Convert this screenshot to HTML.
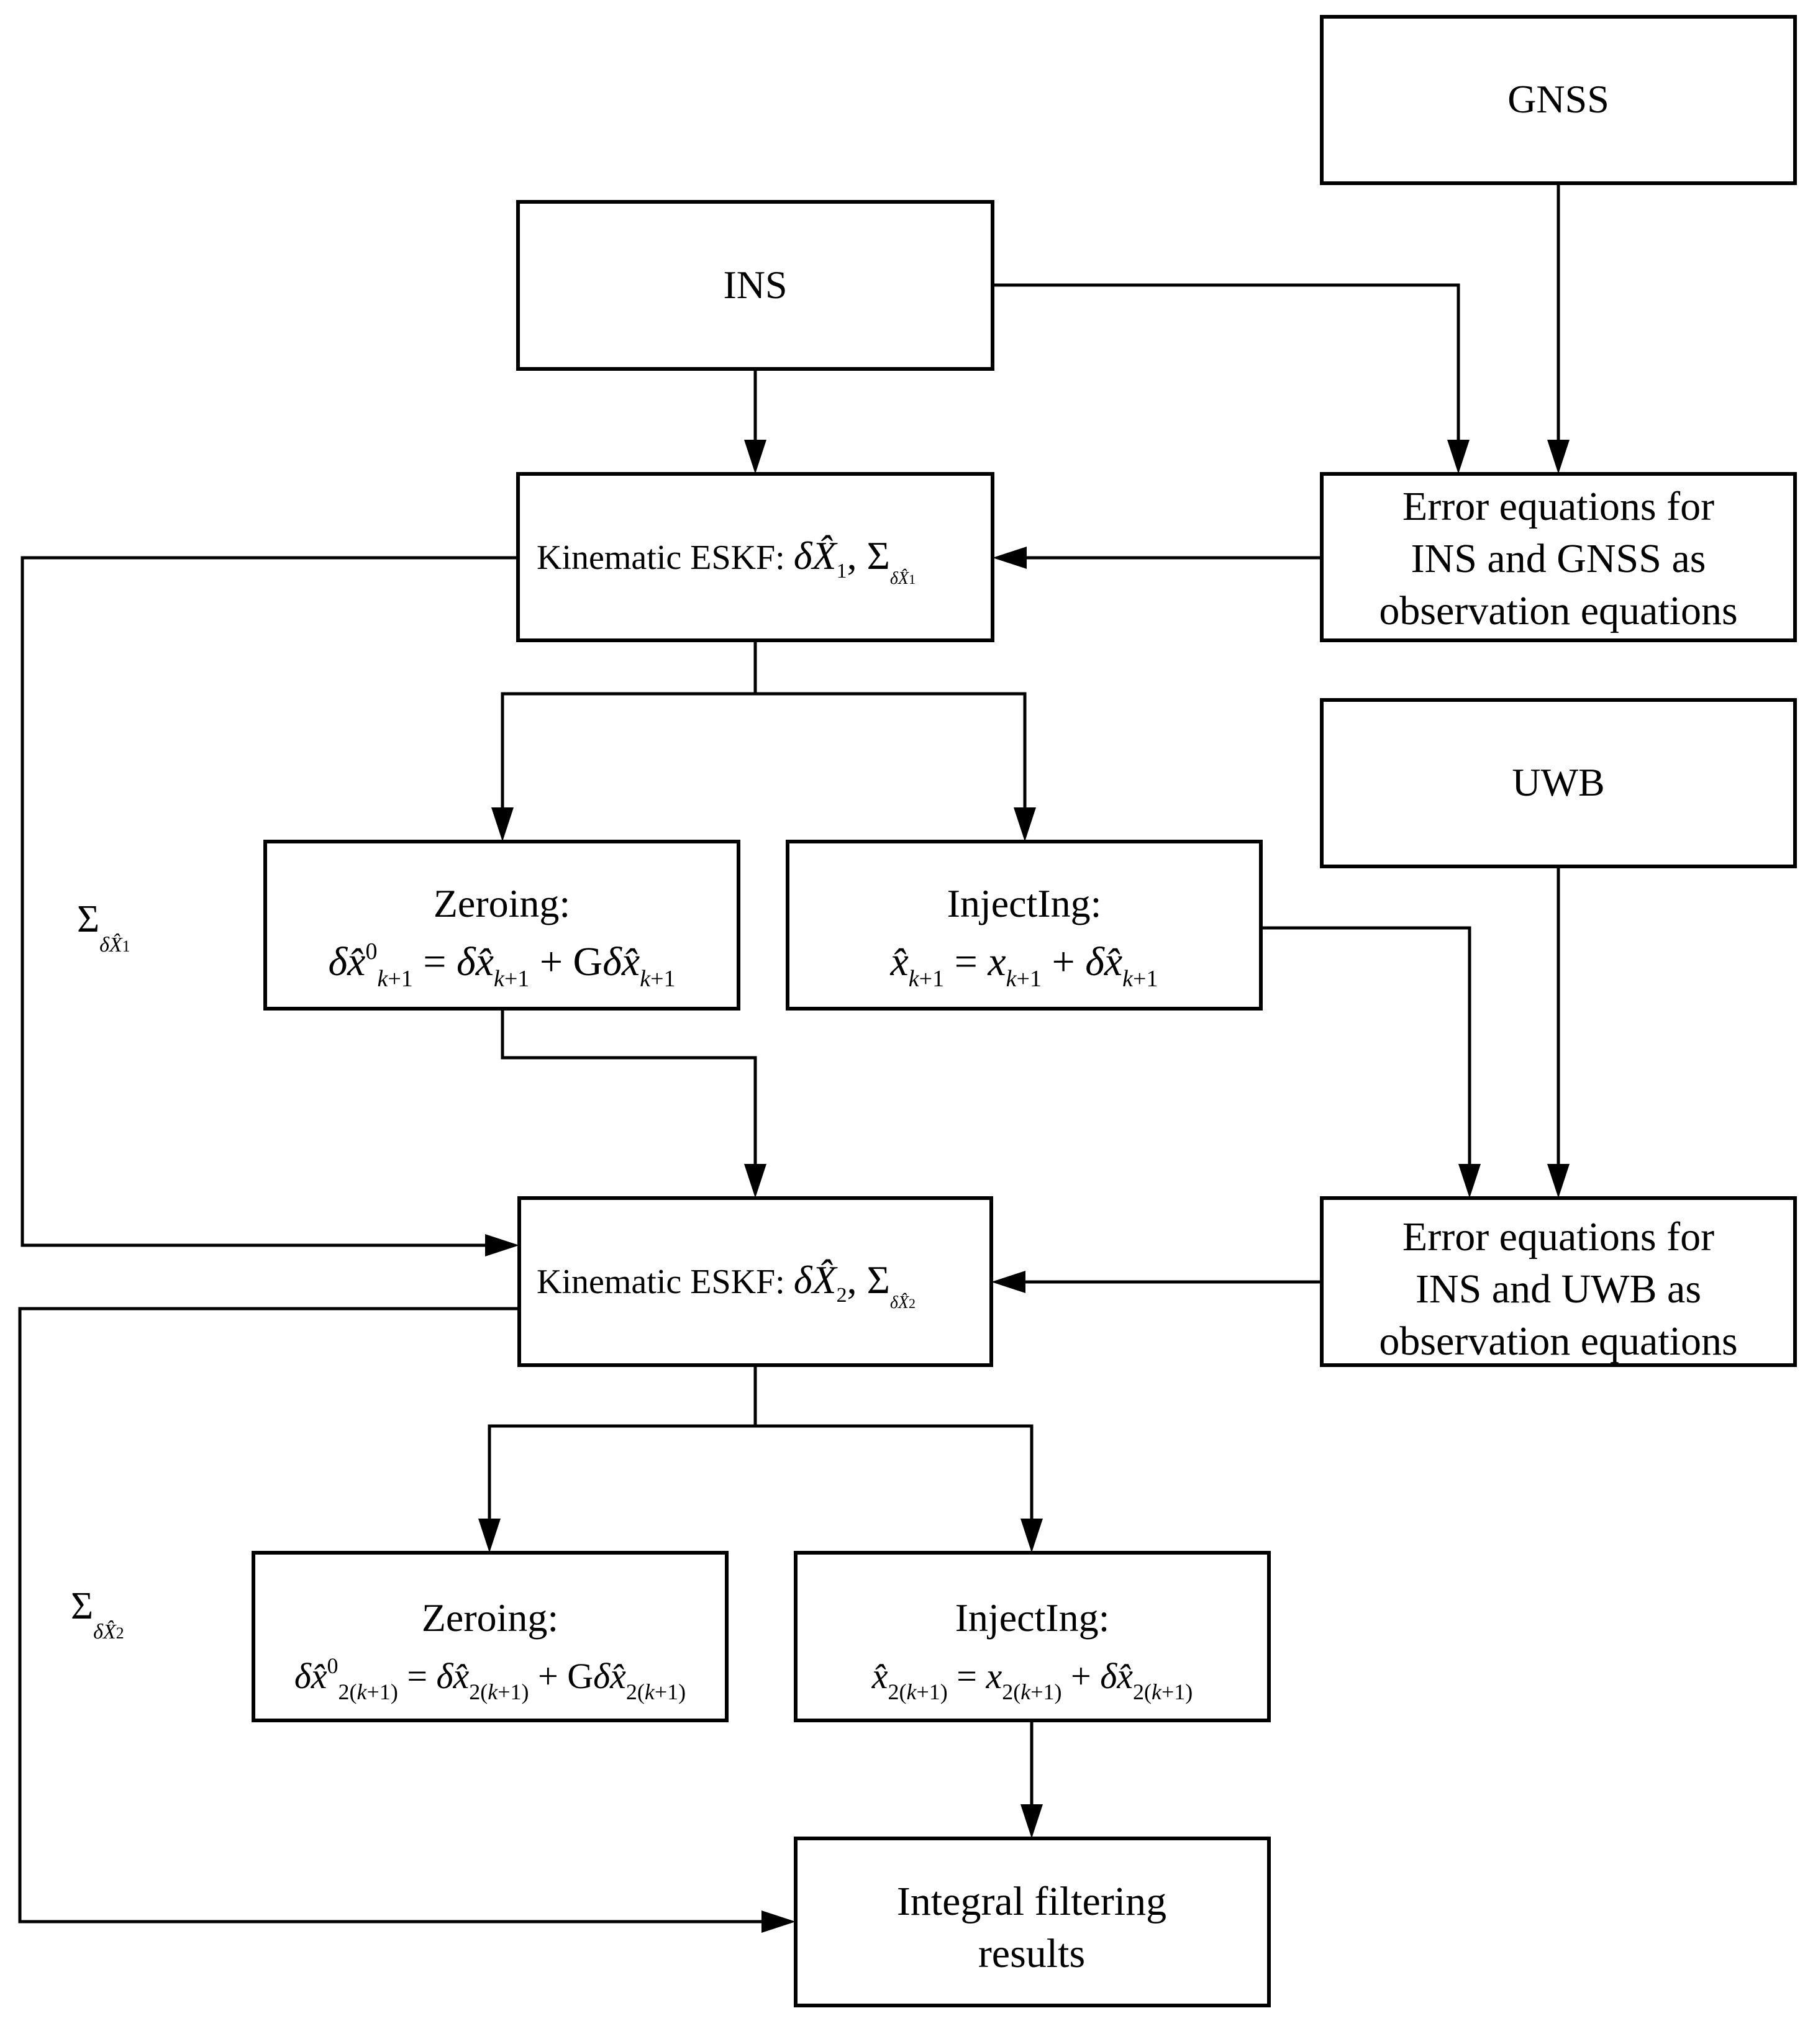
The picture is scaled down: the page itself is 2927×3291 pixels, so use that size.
<!DOCTYPE html>
<html><head><meta charset="utf-8"><style>
html,body{margin:0;padding:0;background:#fff}
svg{display:block}
text{font-family:"Liberation Serif",serif;fill:#000}
.i{font-style:italic}
</style></head><body>
<svg width="2927" height="3291" viewBox="0 0 2927 3291" xmlns="http://www.w3.org/2000/svg">
<g fill="none" stroke="#000" stroke-width="6">
<rect x="2128" y="27" width="762" height="268"/>
<rect x="834" y="325" width="764" height="269"/>
<rect x="834" y="763" width="764" height="268"/>
<rect x="2128" y="763" width="762" height="268"/>
<rect x="2128" y="1127" width="762" height="268"/>
<rect x="427" y="1355" width="762" height="269"/>
<rect x="1268" y="1355" width="762" height="269"/>
<rect x="836" y="1929" width="760" height="269"/>
<rect x="2128" y="1929" width="762" height="269"/>
<rect x="408" y="2500" width="762" height="270"/>
<rect x="1281" y="2500" width="762" height="270"/>
<rect x="1281" y="2960" width="762" height="269"/>
</g>
<g fill="none" stroke="#000" stroke-width="5">
<polyline points="1598,459 2348,459 2348,720"/>
<line x1="2509" y1="295" x2="2509" y2="720"/>
<line x1="1216" y1="594" x2="1216" y2="720"/>
<line x1="2128" y1="898" x2="1640" y2="898"/>
<polyline points="834,898 36,898 36,2005 792,2005"/>
<polyline points="1216,1031 1216,1117 809,1117 809,1312"/>
<polyline points="1216,1117 1650,1117 1650,1312"/>
<polyline points="2030,1494 2366,1494 2366,1886"/>
<line x1="2509" y1="1395" x2="2509" y2="1886"/>
<polyline points="809,1624 809,1703 1216,1703 1216,1886"/>
<line x1="2128" y1="2064" x2="1638" y2="2064"/>
<polyline points="836,2107 32,2107 32,3094 1238,3094"/>
<polyline points="1216,2198 1216,2296 788,2296 788,2457"/>
<polyline points="1216,2296 1661,2296 1661,2457"/>
<line x1="1661" y1="2770" x2="1661" y2="2917"/>
</g>
<g fill="#000">
<polygon points="2330,708 2366,708 2348,763"/>
<polygon points="2491,708 2527,708 2509,763"/>
<polygon points="1198,708 1234,708 1216,763"/>
<polygon points="1653,880 1653,916 1598,898"/>
<polygon points="781,1987 781,2023 836,2005"/>
<polygon points="791,1300 827,1300 809,1355"/>
<polygon points="1632,1300 1668,1300 1650,1355"/>
<polygon points="2348,1874 2384,1874 2366,1929"/>
<polygon points="2491,1874 2527,1874 2509,1929"/>
<polygon points="1198,1874 1234,1874 1216,1929"/>
<polygon points="1651,2046 1651,2082 1596,2064"/>
<polygon points="770,2445 806,2445 788,2500"/>
<polygon points="1643,2445 1679,2445 1661,2500"/>
<polygon points="1643,2905 1679,2905 1661,2960"/>
<polygon points="1226,3076 1226,3112 1281,3094"/>
</g>
<g font-size="64" text-anchor="middle">
<text x="2509" y="181">GNSS</text>
<text x="1216" y="480">INS</text>
<text x="2509" y="1281">UWB</text>
<text x="2509" y="837" font-size="66">Error equations for</text>
<text x="2509" y="921" font-size="66">INS and GNSS as</text>
<text x="2509" y="1005" font-size="66">observation equations</text>
<text x="2509" y="2013" font-size="66">Error equations for</text>
<text x="2509" y="2097" font-size="66">INS and UWB as</text>
<text x="2509" y="2181" font-size="66">observation equations</text>
<text x="1661" y="3083" font-size="66">Integral filtering</text>
<text x="1661" y="3167" font-size="66">results</text>
<text x="808" y="1476">Zeroing:</text>
<text x="1649" y="1476">InjectIng:</text>
<text x="789" y="2626">Zeroing:</text>
<text x="1662" y="2626">InjectIng:</text>
</g>
<g font-size="56">
<text x="864" y="916">Kinematic ESKF: <tspan class="i" font-size="64">δX̂</tspan><tspan font-size="34" dy="14">1</tspan><tspan dy="-14" font-size="64">, Σ</tspan><tspan class="i" font-size="28" dy="24">δX̂</tspan><tspan font-size="22">1</tspan></text>
<text x="864" y="2082">Kinematic ESKF: <tspan class="i" font-size="64">δX̂</tspan><tspan font-size="34" dy="14">2</tspan><tspan dy="-14" font-size="64">, Σ</tspan><tspan class="i" font-size="28" dy="24">δX̂</tspan><tspan font-size="22">2</tspan></text>
</g>
<g font-size="66" text-anchor="middle">
<text x="808" y="1570"><tspan class="i">δx̂</tspan><tspan font-size="38" dy="-26">0</tspan><tspan class="i" font-size="38" dy="44">k</tspan><tspan font-size="38">+1</tspan><tspan dy="-18"> = </tspan><tspan class="i">δx̂</tspan><tspan class="i" font-size="38" dy="18">k</tspan><tspan font-size="38">+1</tspan><tspan dy="-18"> + G</tspan><tspan class="i">δx̂</tspan><tspan class="i" font-size="38" dy="18">k</tspan><tspan font-size="38">+1</tspan></text>
<text x="1649" y="1570"><tspan class="i">x̂</tspan><tspan class="i" font-size="38" dy="18">k</tspan><tspan font-size="38">+1</tspan><tspan dy="-18"> = </tspan><tspan class="i">x</tspan><tspan class="i" font-size="38" dy="18">k</tspan><tspan font-size="38">+1</tspan><tspan dy="-18"> + </tspan><tspan class="i">δx̂</tspan><tspan class="i" font-size="38" dy="18">k</tspan><tspan font-size="38">+1</tspan></text>
<text x="789" y="2718" font-size="58"><tspan class="i">δx̂</tspan><tspan font-size="36" dy="-24">0</tspan><tspan font-size="36" dy="42">2(<tspan class="i">k</tspan>+1)</tspan><tspan dy="-18"> = </tspan><tspan class="i">δx̂</tspan><tspan font-size="36" dy="18">2(<tspan class="i">k</tspan>+1)</tspan><tspan dy="-18"> + G</tspan><tspan class="i">δx̂</tspan><tspan font-size="36" dy="18">2(<tspan class="i">k</tspan>+1)</tspan></text>
<text x="1662" y="2718" font-size="58"><tspan class="i">x̂</tspan><tspan font-size="36" dy="18">2(<tspan class="i">k</tspan>+1)</tspan><tspan dy="-18"> = </tspan><tspan class="i">x</tspan><tspan font-size="36" dy="18">2(<tspan class="i">k</tspan>+1)</tspan><tspan dy="-18"> + </tspan><tspan class="i">δx̂</tspan><tspan font-size="36" dy="18">2(<tspan class="i">k</tspan>+1)</tspan></text>
</g>
<text x="124" y="1500" font-size="62">Σ<tspan class="i" font-size="34" dy="32">δX̂</tspan><tspan font-size="26">1</tspan></text>
<text x="114" y="2606" font-size="62">Σ<tspan class="i" font-size="34" dy="32">δX̂</tspan><tspan font-size="26">2</tspan></text>
</svg>
</body></html>
